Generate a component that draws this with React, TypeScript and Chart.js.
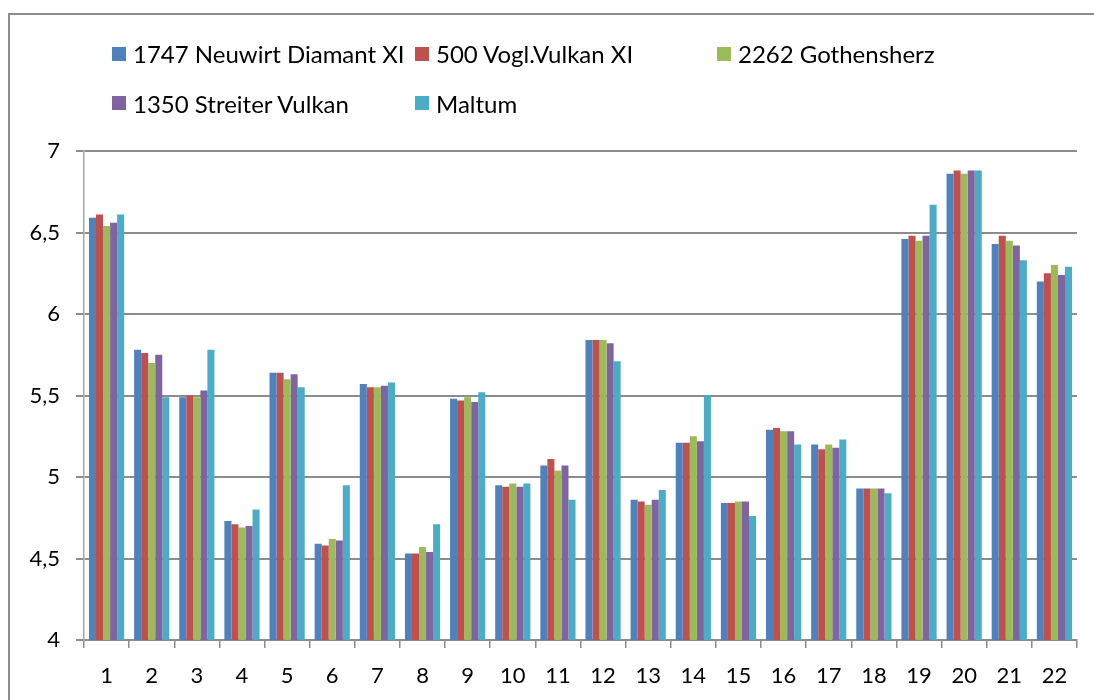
import React, { useEffect, useRef } from "react";
import { Chart, registerables } from "chart.js";
Chart.register(...registerables);

const categories = ["1","2","3","4","5","6","7","8","9","10","11","12","13","14","15","16","17","18","19","20","21","22"];
const seriesNames = ["1747 Neuwirt Diamant XI", "500 Vogl.Vulkan XI", "2262 Gothensherz", "1350 Streiter Vulkan", "Maltum"];
const seriesColors = ["#4F81BD", "#C0504D", "#9BBB59", "#8064A2", "#4BACC6"];
const neuwirt = [6.59,5.78,5.49,4.73,5.64,4.59,5.57,4.53,5.48,4.95,5.07,5.84,4.86,5.21,4.84,5.29,5.20,4.93,6.46,6.86,6.43,6.20];
const vogl = [6.61,5.76,5.50,4.71,5.64,4.58,5.55,4.53,5.47,4.94,5.11,5.84,4.85,5.21,4.84,5.30,5.17,4.93,6.48,6.88,6.48,6.25];
const gothensherz = [6.54,5.70,5.49,4.69,5.60,4.62,5.55,4.57,5.49,4.96,5.04,5.84,4.83,5.25,4.85,5.28,5.20,4.93,6.45,6.86,6.45,6.30];
const streiter = [6.56,5.75,5.53,4.70,5.63,4.61,5.56,4.54,5.46,4.94,5.07,5.82,4.86,5.22,4.85,5.28,5.18,4.93,6.48,6.88,6.42,6.24];
const maltum = [6.61,5.49,5.78,4.80,5.55,4.95,5.58,4.71,5.52,4.96,4.86,5.71,4.92,5.50,4.76,5.20,5.23,4.90,6.67,6.88,6.33,6.29];
const yMin = 4;
const yMax = 7;
const yStep = 0.5;

const FONT = "Lato, 'Noto Sans', sans-serif";
const legendLayout = [
  { left: 112, top: 53.5 },
  { left: 415, top: 53.5 },
  { left: 717, top: 53.5 },
  { left: 112, top: 103 },
  { left: 415, top: 103 },
];

export default function App() {
  const ref = useRef<HTMLCanvasElement | null>(null);
  useEffect(() => {
    if (!ref.current) return;
    const values = [neuwirt, vogl, gothensherz, streiter, maltum];
    const chart = new Chart(ref.current, {
      type: "bar",
      data: {
        labels: categories,
        datasets: values.map((v, i) => ({
          label: seriesNames[i],
          data: v,
          backgroundColor: seriesColors[i],
          borderWidth: 0,
          categoryPercentage: 0.78,
          barPercentage: 1.0,
        })),
      },
      options: {
        animation: false,
        responsive: false,
        maintainAspectRatio: false,
        layout: { padding: { top: 151, right: 17, bottom: 0, left: 0 } },
        plugins: { legend: { display: false }, tooltip: { enabled: false } },
        scales: {
          x: {
            afterFit: (s: any) => { s.height = 60; },
            grid: { drawOnChartArea: false, drawTicks: true, tickLength: 8, offset: true, color: "#8c8c8c", lineWidth: 1.5 },
            border: { color: "#8c8c8c", width: 1.5 },
            ticks: { color: "#000", font: { family: FONT, size: 22 }, padding: 15, maxRotation: 0 },
          },
          y: {
            min: yMin,
            max: yMax,
            afterFit: (s: any) => { s.width = 84; },
            grid: { color: "#8c8c8c", lineWidth: 2, tickLength: 8 },
            border: { color: "#a6a6a6", width: 1.5 },
            ticks: {
              stepSize: yStep,
              color: "#000",
              font: { family: FONT, size: 22 },
              padding: 16,
              callback: (v: any) => String(v).replace(".", ","),
            },
          },
        },
      },
    });
    return () => chart.destroy();
  }, []);

  return (
    <div style={{ position: "fixed", left: 0, top: 0, width: 1094, height: 700, background: "#fff", overflow: "hidden" }}>
      <div style={{ position: "absolute", left: 8, top: 13, width: 1200, height: 800, border: "2px solid #8c8c8c", boxSizing: "border-box" }} />
      <canvas ref={ref} width={1094} height={700} style={{ position: "absolute", left: 0, top: 0, width: 1094, height: 700 }} />
      {seriesNames.map((name, i) => (
        <div key={name} style={{ position: "absolute", left: legendLayout[i].left, top: legendLayout[i].top - 16, height: 32, display: "flex", alignItems: "center", fontFamily: FONT, fontSize: 24, color: "#000", whiteSpace: "nowrap" }}>
          <span style={{ display: "inline-block", width: 14, height: 14, background: seriesColors[i], marginRight: 7 }} />
          <span>{name}</span>
        </div>
      ))}
    </div>
  );
}
